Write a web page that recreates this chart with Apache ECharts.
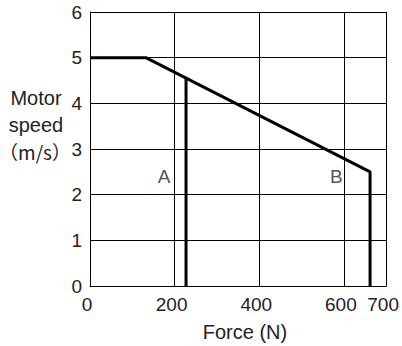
<!DOCTYPE html>
<html><head><meta charset="utf-8">
<script src="https://cdn.jsdelivr.net/npm/echarts@6/dist/echarts.min.js"></script>
<style>html,body{margin:0;padding:0;background:#fff}#c{width:402px;height:346px}</style>
</head><body><div id="c"></div>
<script>
const xTicks = [0, 200, 400, 600, 700];
const curveB = [[0, 5], [132, 5], [662, 2.5], [662, 0]];
const curveA = [[227, 0], [227, 4.55]];
const curveLabels = [[175, 2.39, 'A'], [582, 2.39, 'B']];
const yName = ['Motor', 'speed', '（m/s）'];
const xName = 'Force (N)';

const font = '"Liberation Sans", Arial, "Noto Sans CJK JP", sans-serif';
const txt = '#222';
const chart = echarts.init(document.getElementById('c'), null, {renderer: 'svg'});
chart.setOption({
  animation: false,
  grid: {left: 90, right: 13, top: 12, bottom: 60},
  xAxis: {
    type: 'value', min: 0, max: 700, interval: 200,
    axisLine: {show: true, lineStyle: {color: '#000', width: 1}},
    axisTick: {show: false},
    splitLine: {show: true, lineStyle: {color: '#000', width: 1}},
    axisLabel: {color: txt, fontSize: 19, fontFamily: font, margin: 9, padding: [0, 6, 0, 0],
      showMaxLabel: true, showMinLabel: true}
  },
  yAxis: {
    type: 'value', min: 0, max: 6, interval: 1,
    axisLine: {show: true, lineStyle: {color: '#000', width: 1}},
    axisTick: {show: false},
    splitLine: {show: true, lineStyle: {color: '#000', width: 1}},
    axisLabel: {color: txt, fontSize: 19, fontFamily: font, margin: 8}
  },
  graphic: [
    {type: 'text', style: {text: yName[0], x: 36, y: 98, fill: txt, font: '20px ' + font, textAlign: 'center', textVerticalAlign: 'middle'}},
    {type: 'text', style: {text: yName[1], x: 36, y: 125, fill: txt, font: '20px ' + font, textAlign: 'center', textVerticalAlign: 'middle'}},
    {type: 'text', style: {text: yName[2], x: 35, y: 151, fill: txt, font: '19px "Noto Sans CJK JP", "Liberation Sans", sans-serif', textAlign: 'center', textVerticalAlign: 'middle'}},
    {type: 'text', style: {text: xName, x: 245, y: 332, fill: txt, font: '20px ' + font, textAlign: 'center', textVerticalAlign: 'middle'}}
  ],
  series: [
    {type: 'line', data: curveB, showSymbol: false, lineStyle: {color: '#000', width: 3}, z: 5},
    {type: 'line', data: curveA, showSymbol: false, lineStyle: {color: '#000', width: 3}, z: 5},
    {type: 'scatter', data: curveLabels, symbolSize: 0,
      label: {show: true, position: 'inside', formatter: p => p.value[2], color: txt, fontSize: 19, fontFamily: font}}
  ]
});
</script></body></html>
